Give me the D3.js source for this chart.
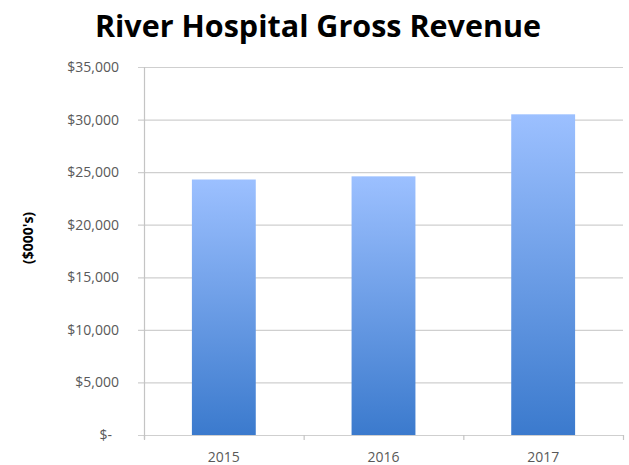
<!DOCTYPE html>
<html>
<head>
<meta charset="utf-8">
<script src="https://cdn.jsdelivr.net/npm/d3@7"></script>
<style>
  body { margin: 0; background: #fff; }
  text { font-family: "Open Sans", "Liberation Sans", sans-serif; }
</style>
</head>
<body>
<div id="chart"></div>
<script>
    var years = ["2015", "2016", "2017"];
    var revenue = [24300, 24600, 30500];
    var yTicks = [0, 5000, 10000, 15000, 20000, 25000, 30000, 35000];

    var width = 629, height = 465;
    var margin = {left: 144, right: 6, top: 67, bottom: 30};

    var svg = d3.select('#chart').append('svg')
                .attr('width', width)
                .attr('height', height);

    var x = d3.scaleBand()
              .domain(years)
              .range([margin.left, width - margin.right])
              .paddingInner(0.6)
              .paddingOuter(0.3);

    var y = d3.scaleLinear()
              .domain([0, 35000])
              .range([height - margin.bottom, margin.top]);

    // gradient for the bars, light on top
    var grad = svg.append('defs').append('linearGradient')
                  .attr('id', 'barGrad')
                  .attr('x1', 0).attr('y1', 0).attr('x2', 0).attr('y2', 1);
    grad.append('stop').attr('offset', '0%').attr('stop-color', '#9cc0ff');
    grad.append('stop').attr('offset', '100%').attr('stop-color', '#3b7acd');

    // gridlines
    svg.append('g')
       .selectAll('line')
       .data(yTicks)
       .enter().append('line')
       .attr('x1', margin.left - 6)
       .attr('x2', width - margin.right)
       .attr('y1', d => y(d) + 0.5)
       .attr('y2', d => y(d) + 0.5)
       .attr('stroke', '#cfcfcf')
       .attr('stroke-width', 1.2);

    // y axis line
    svg.append('line')
       .attr('x1', margin.left + 0.5).attr('x2', margin.left + 0.5)
       .attr('y1', y(35000)).attr('y2', y(0) + 4)
       .attr('stroke', '#c4c4c4').attr('stroke-width', 1.2);

    // x axis ticks at category borders
    var borders = [margin.left].concat(years.map(d => x(d) + x.bandwidth() / 2 + x.step() / 2));
    svg.append('g')
       .selectAll('line')
       .data(borders)
       .enter().append('line')
       .attr('x1', d => d + 0.5).attr('x2', d => d + 0.5)
       .attr('y1', y(0)).attr('y2', y(0) + 5)
       .attr('stroke', '#c4c4c4').attr('stroke-width', 1.2);

    // bars
    svg.append('g')
       .selectAll('rect')
       .data(revenue)
       .enter().append('rect')
       .attr('x', (d, i) => x(years[i]))
       .attr('y', d => y(d))
       .attr('width', x.bandwidth())
       .attr('height', d => y(0) - y(d))
       .attr('fill', 'url(#barGrad)');

    // y tick labels
    var fmt = d3.format(',');
    svg.append('g')
       .selectAll('text')
       .data(yTicks)
       .enter().append('text')
       .attr('x', d => d === 0 ? 112 : 119)
       .attr('y', d => y(d) + 5)
       .attr('text-anchor', 'end')
       .attr('font-size', 14)
       .attr('fill', '#595959')
       .text(d => d === 0 ? '$-' : '$' + fmt(d));

    // x tick labels
    svg.append('g')
       .selectAll('text')
       .data(years)
       .enter().append('text')
       .attr('x', d => x(d) + x.bandwidth() / 2)
       .attr('y', 462)
       .attr('text-anchor', 'middle')
       .attr('font-size', 14)
       .attr('fill', '#595959')
       .text(d => d);

    // y axis title
    svg.append('text')
       .attr('transform', 'translate(33,238) rotate(-90)')
       .attr('text-anchor', 'middle')
       .attr('font-size', 14)
       .attr('font-weight', 'bold')
       .attr('fill', '#000')
       .text("($000's)");

    // title
    svg.append('text')
       .attr('x', 318)
       .attr('y', 37)
       .attr('text-anchor', 'middle')
       .attr('font-size', 30.5)
       .attr('font-weight', 'bold')
       .attr('fill', '#000')
       .text('River Hospital Gross Revenue');
</script>
</body>
</html>
